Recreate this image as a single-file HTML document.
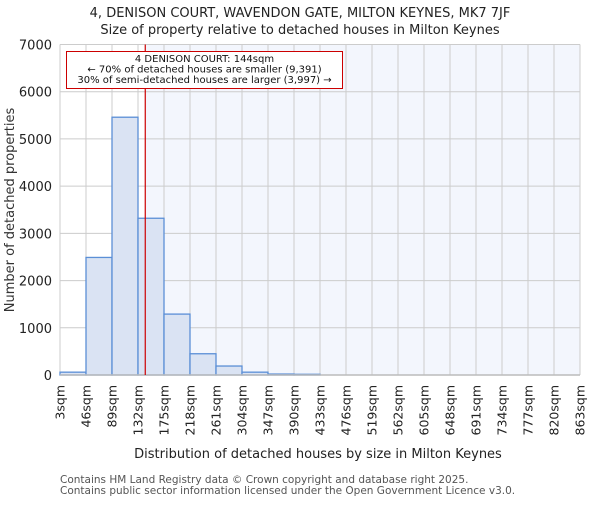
<!DOCTYPE html>
<html><head><meta charset="utf-8"><style>
body{margin:0;background:#fff;}
svg text{font-family:"DejaVu Sans","Liberation Sans",sans-serif;}
</style></head><body>
<svg id="chart" width="600" height="500" xmlns="http://www.w3.org/2000/svg">
<text x="300" y="17" text-anchor="middle" font-size="13" fill="#222">4, DENISON COURT, WAVENDON GATE, MILTON KEYNES, MK7 7JF</text>
<text x="300" y="34" text-anchor="middle" font-size="13" fill="#222">Size of property relative to detached houses in Milton Keynes</text>
<g id="plot"></g>
<text transform="translate(14,210) rotate(-90)" text-anchor="middle" font-size="13" fill="#333">Number of detached properties</text>
<text x="318" y="458" text-anchor="middle" font-size="13" fill="#222">Distribution of detached houses by size in Milton Keynes</text>
<text x="60" y="483" font-size="10.5" fill="#555">Contains HM Land Registry data © Crown copyright and database right 2025.</text>
<text x="60" y="494" font-size="10.5" fill="#555">Contains public sector information licensed under the Open Government Licence v3.0.</text>
</svg>
<script>
const binEdges=[3,46,89,132,175,218,261,304,347,390,433,476,519,562,605,648,691,734,777,820,863];
const counts=[60,2490,5460,3320,1290,450,190,60,20,15,0,0,0,0,0,0,0,0,0,0];
const yTicks=[0,1000,2000,3000,4000,5000,6000,7000];
const propertySize=144;
const NS="http://www.w3.org/2000/svg";
const L=60,R=580,T=44.5,B=375,YMAX=7000;
const x=v=>L+(v-binEdges[0])/(binEdges[binEdges.length-1]-binEdges[0])*(R-L);
const y=v=>B-v/YMAX*(B-T);
const g=document.getElementById('plot');
function mk(tag,attrs){const e=document.createElementNS(NS,tag);for(const k in attrs)e.setAttribute(k,attrs[k]);g.appendChild(e);return e;}
const px=x(propertySize);
let e=mk('rect',{x:px,y:T,width:R-px,height:B-T,fill:'#f3f6fd'});


yTicks.forEach(t=>{
 let l=mk('line',{x1:L,x2:R,y1:y(t),y2:y(t),stroke:'#ccc','stroke-width':1});
 
 
 let tx=mk('text',{x:L-8,y:y(t)+5,'text-anchor':'end','font-size':13,fill:'#222'});
 tx.textContent=t;
 
 
});
binEdges.forEach(b=>{
 let l=mk('line',{x1:x(b),x2:x(b),y1:T,y2:B,stroke:'#ccc','stroke-width':1});
 
 
 let tx=mk('text',{transform:`translate(${x(b)+4.5},385) rotate(-90)`,'text-anchor':'end','font-size':12.5,fill:'#222'});
 tx.textContent=b+'sqm';
 
 
});
counts.forEach((c,i)=>{
 if(c<=0)return;
 let r=mk('rect',{x:x(binEdges[i]),y:y(c),width:x(binEdges[i+1])-x(binEdges[i]),height:B-y(c),fill:'#dae3f3',stroke:'#5b8fd6','stroke-width':1.3});
 
 
});
e=mk('line',{x1:L,x2:R,y1:B,y2:B,stroke:'#bbb','stroke-width':1.5});


e=mk('line',{x1:px,x2:px,y1:T,y2:B,stroke:'#c00','stroke-width':1.2});


e=mk('rect',{x:66.5,y:51.5,width:276,height:37,fill:'#fff',stroke:'#c00','stroke-width':1});


[['4 DENISON COURT: 144sqm',62],['← 70% of detached houses are smaller (9,391)',72.5],['30% of semi-detached houses are larger (3,997) →',83]].forEach(a=>{
 let t=mk('text',{x:204.5,y:a[1],'text-anchor':'middle','font-size':10,fill:'#111'});
 t.textContent=a[0];
 
 
});
</script>
</body></html>
